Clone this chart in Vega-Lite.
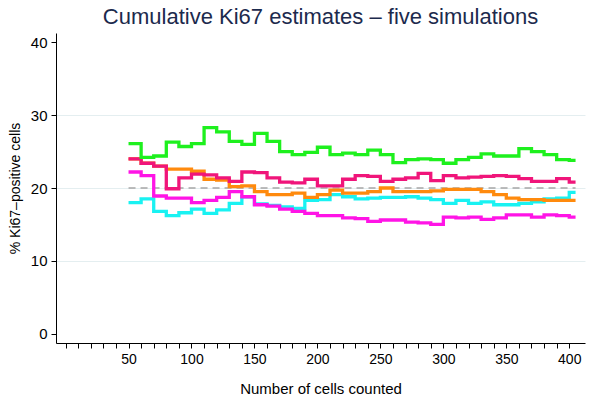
{
  "$schema": "https://vega.github.io/schema/vega-lite/v6.json",
  "width": 529,
  "height": 310,
  "autosize": {"type": "none"},
  "padding": {"left": 56, "top": 33, "right": 15, "bottom": 66},
  "background": "white",
  "config": {"view": {"stroke": null}, "font": "Liberation Sans"},
  "title": {"text": "Cumulative Ki67 estimates – five simulations", "fontSize": 22, "font": "Liberation Sans", "fontWeight": "normal", "color": "#1c2a4d", "anchor": "middle", "offset": 4},
  "datasets": {
    "sims": [
      {"n":50,"s":"cyan","v":18.0},{"n":60,"s":"cyan","v":18.5},{"n":70,"s":"cyan","v":16.8},{"n":80,"s":"cyan","v":16.2},{"n":90,"s":"cyan","v":16.6},{"n":100,"s":"cyan","v":17.1},{"n":110,"s":"cyan","v":16.5},{"n":120,"s":"cyan","v":17.0},{"n":130,"s":"cyan","v":17.9},{"n":140,"s":"cyan","v":18.8},{"n":150,"s":"cyan","v":17.8},{"n":160,"s":"cyan","v":17.6},{"n":170,"s":"cyan","v":17.4},{"n":180,"s":"cyan","v":17.2},{"n":190,"s":"cyan","v":18.3},{"n":200,"s":"cyan","v":18.4},{"n":210,"s":"cyan","v":19.1},{"n":220,"s":"cyan","v":18.8},{"n":230,"s":"cyan","v":18.5},{"n":240,"s":"cyan","v":18.6},{"n":250,"s":"cyan","v":18.7},{"n":260,"s":"cyan","v":18.7},{"n":270,"s":"cyan","v":18.8},{"n":280,"s":"cyan","v":18.6},{"n":290,"s":"cyan","v":18.4},{"n":300,"s":"cyan","v":17.9},{"n":310,"s":"cyan","v":18.3},{"n":320,"s":"cyan","v":17.9},{"n":330,"s":"cyan","v":18.1},{"n":340,"s":"cyan","v":17.7},{"n":350,"s":"cyan","v":17.7},{"n":360,"s":"cyan","v":17.9},{"n":370,"s":"cyan","v":18.1},{"n":380,"s":"cyan","v":18.5},{"n":390,"s":"cyan","v":18.6},{"n":400,"s":"cyan","v":19.4},{"n":405,"s":"cyan","v":19.4},
      {"n":50,"s":"magenta","v":22.2},{"n":60,"s":"magenta","v":21.7},{"n":70,"s":"magenta","v":18.9},{"n":80,"s":"magenta","v":18.6},{"n":90,"s":"magenta","v":18.6},{"n":100,"s":"magenta","v":18.0},{"n":110,"s":"magenta","v":18.3},{"n":120,"s":"magenta","v":18.7},{"n":130,"s":"magenta","v":19.5},{"n":140,"s":"magenta","v":18.8},{"n":150,"s":"magenta","v":17.7},{"n":160,"s":"magenta","v":17.5},{"n":170,"s":"magenta","v":17.1},{"n":180,"s":"magenta","v":16.8},{"n":190,"s":"magenta","v":16.5},{"n":200,"s":"magenta","v":16.2},{"n":210,"s":"magenta","v":16.2},{"n":220,"s":"magenta","v":15.9},{"n":230,"s":"magenta","v":15.8},{"n":240,"s":"magenta","v":15.4},{"n":250,"s":"magenta","v":15.6},{"n":260,"s":"magenta","v":15.6},{"n":270,"s":"magenta","v":15.3},{"n":280,"s":"magenta","v":15.2},{"n":290,"s":"magenta","v":15.0},{"n":300,"s":"magenta","v":16.0},{"n":310,"s":"magenta","v":15.9},{"n":320,"s":"magenta","v":16.0},{"n":330,"s":"magenta","v":15.7},{"n":340,"s":"magenta","v":15.9},{"n":350,"s":"magenta","v":16.3},{"n":360,"s":"magenta","v":16.3},{"n":370,"s":"magenta","v":16.0},{"n":380,"s":"magenta","v":16.3},{"n":390,"s":"magenta","v":16.2},{"n":400,"s":"magenta","v":16.0},{"n":405,"s":"magenta","v":16.0},
      {"n":50,"s":"orange","v":24.0},{"n":60,"s":"orange","v":23.4},{"n":70,"s":"orange","v":23.0},{"n":80,"s":"orange","v":22.6},{"n":90,"s":"orange","v":22.6},{"n":100,"s":"orange","v":22.3},{"n":110,"s":"orange","v":21.2},{"n":120,"s":"orange","v":21.1},{"n":130,"s":"orange","v":20.2},{"n":140,"s":"orange","v":20.3},{"n":150,"s":"orange","v":19.5},{"n":160,"s":"orange","v":19.1},{"n":170,"s":"orange","v":19.1},{"n":180,"s":"orange","v":19.3},{"n":190,"s":"orange","v":18.7},{"n":200,"s":"orange","v":19.1},{"n":210,"s":"orange","v":19.7},{"n":220,"s":"orange","v":19.3},{"n":230,"s":"orange","v":19.3},{"n":240,"s":"orange","v":19.5},{"n":250,"s":"orange","v":20.0},{"n":260,"s":"orange","v":19.5},{"n":270,"s":"orange","v":19.5},{"n":280,"s":"orange","v":19.5},{"n":290,"s":"orange","v":19.6},{"n":300,"s":"orange","v":19.8},{"n":310,"s":"orange","v":19.8},{"n":320,"s":"orange","v":19.8},{"n":330,"s":"orange","v":19.5},{"n":340,"s":"orange","v":19.1},{"n":350,"s":"orange","v":18.6},{"n":360,"s":"orange","v":18.4},{"n":370,"s":"orange","v":18.4},{"n":380,"s":"orange","v":18.3},{"n":390,"s":"orange","v":18.3},{"n":400,"s":"orange","v":18.3},{"n":405,"s":"orange","v":18.3},
      {"n":50,"s":"red","v":24.0},{"n":60,"s":"red","v":23.4},{"n":70,"s":"red","v":23.0},{"n":80,"s":"red","v":19.9},{"n":90,"s":"red","v":21.4},{"n":100,"s":"red","v":21.9},{"n":110,"s":"red","v":21.8},{"n":120,"s":"red","v":21.4},{"n":130,"s":"red","v":20.9},{"n":140,"s":"red","v":22.2},{"n":150,"s":"red","v":22.1},{"n":160,"s":"red","v":21.4},{"n":170,"s":"red","v":20.8},{"n":180,"s":"red","v":20.7},{"n":190,"s":"red","v":21.2},{"n":200,"s":"red","v":20.3},{"n":210,"s":"red","v":20.3},{"n":220,"s":"red","v":21.2},{"n":230,"s":"red","v":21.7},{"n":240,"s":"red","v":21.6},{"n":250,"s":"red","v":20.9},{"n":260,"s":"red","v":21.2},{"n":270,"s":"red","v":21.4},{"n":280,"s":"red","v":22.0},{"n":290,"s":"red","v":21.0},{"n":300,"s":"red","v":21.7},{"n":310,"s":"red","v":21.4},{"n":320,"s":"red","v":21.5},{"n":330,"s":"red","v":21.6},{"n":340,"s":"red","v":21.7},{"n":350,"s":"red","v":21.6},{"n":360,"s":"red","v":21.3},{"n":370,"s":"red","v":20.9},{"n":380,"s":"red","v":20.9},{"n":390,"s":"red","v":21.3},{"n":400,"s":"red","v":20.8},{"n":405,"s":"red","v":20.8},
      {"n":50,"s":"green","v":26.1},{"n":60,"s":"green","v":24.2},{"n":70,"s":"green","v":24.4},{"n":80,"s":"green","v":26.3},{"n":90,"s":"green","v":25.7},{"n":100,"s":"green","v":26.1},{"n":110,"s":"green","v":28.3},{"n":120,"s":"green","v":27.7},{"n":130,"s":"green","v":26.4},{"n":140,"s":"green","v":26.0},{"n":150,"s":"green","v":27.5},{"n":160,"s":"green","v":26.4},{"n":170,"s":"green","v":25.0},{"n":180,"s":"green","v":24.6},{"n":190,"s":"green","v":24.9},{"n":200,"s":"green","v":25.6},{"n":210,"s":"green","v":24.6},{"n":220,"s":"green","v":24.8},{"n":230,"s":"green","v":24.6},{"n":240,"s":"green","v":25.2},{"n":250,"s":"green","v":24.6},{"n":260,"s":"green","v":23.5},{"n":270,"s":"green","v":23.9},{"n":280,"s":"green","v":24.0},{"n":290,"s":"green","v":23.9},{"n":300,"s":"green","v":23.4},{"n":310,"s":"green","v":23.9},{"n":320,"s":"green","v":24.2},{"n":330,"s":"green","v":24.7},{"n":340,"s":"green","v":24.4},{"n":350,"s":"green","v":24.4},{"n":360,"s":"green","v":25.4},{"n":370,"s":"green","v":25.0},{"n":380,"s":"green","v":24.6},{"n":390,"s":"green","v":23.9},{"n":400,"s":"green","v":23.8},{"n":405,"s":"green","v":23.8}
    ]
  },
  "encoding": {
    "x": {
      "field": "n", "type": "quantitative",
      "scale": {"domain": [-7.6, 412.5], "nice": false, "zero": false},
      "axis": {
        "title": "Number of cells counted",
        "values": [0,10,20,30,40,50,60,70,80,90,100,110,120,130,140,150,160,170,180,190,200,210,220,230,240,250,260,270,280,290,300,310,320,330,340,350,360,370,380,390,400],
        "labelExpr": "datum.value % 50 === 0 && datum.value > 0 ? datum.label : ''",
        "grid": false, "domainColor": "#000000", "domainWidth": 1, "tickColor": "#000000", "tickSize": 5, "tickWidth": 1,
        "labelFontSize": 14, "labelColor": "#000000", "labelPadding": 4, "labelFlush": false, "labelOverlap": false,
        "titleFontSize": 15, "titleFontWeight": "normal", "titleColor": "#000000", "titlePadding": 15
      }
    },
    "y": {
      "field": "v", "type": "quantitative",
      "scale": {"domain": [-1.3, 41.3], "nice": false, "zero": false},
      "axis": {
        "title": "% Ki67–positive cells",
        "values": [0, 10, 20, 30, 40],
        "grid": true, "gridColor": "#e4eef0", "gridWidth": 1,
        "gridOpacity": {"condition": {"test": "datum.value > 0 && datum.value < 40", "value": 1}, "value": 0},
        "domainColor": "#000000", "domainWidth": 1, "tickColor": "#000000", "tickSize": 5, "tickWidth": 1,
        "labelFontSize": 15, "labelColor": "#000000", "labelPadding": 4,
        "titleFontSize": 14, "titleFontWeight": "normal", "titleColor": "#000000", "titlePadding": 8
      }
    }
  },
  "layer": [
    {
      "data": {"values": [{"n": 50, "n2": 405, "v": 20}]},
      "mark": {"type": "rule", "color": "#a6a6a6", "strokeDash": [7, 5], "strokeWidth": 1.5},
      "encoding": {"x2": {"field": "n2"}}
    },
    {
      "data": {"name": "sims"},
      "mark": {"type": "line", "interpolate": "step-after", "strokeWidth": 3.3, "strokeJoin": "miter", "strokeCap": "butt"},
      "encoding": {
        "color": {
          "field": "s", "type": "nominal", "legend": null,
          "scale": {"domain": ["cyan", "magenta", "orange", "red", "green"], "range": ["#19f2f2", "#ff14e6", "#ff8a0d", "#f0157a", "#1ef01e"]}
        }
      }
    }
  ]
}
